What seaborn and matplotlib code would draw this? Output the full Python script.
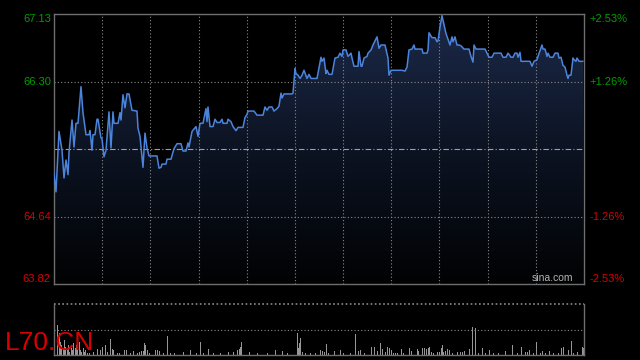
import numpy as np
import pandas as pd
import matplotlib
matplotlib.use("Agg")
import matplotlib.pyplot as plt
from matplotlib.colors import LinearSegmentedColormap
import seaborn as sns

# ---------------- data ----------------
minute = [0, 2, 5, 8, 10, 12, 14, 15, 18, 20, 22, 24, 27, 29, 32, 35, 36, 38, 39, 41,
          43, 44, 47, 48, 50, 52, 55, 57, 59, 60, 64, 66, 67, 69, 71, 73, 75, 78, 83, 84,
          86, 89, 91, 93, 95, 103, 105, 107, 108, 112, 113, 117, 120, 123, 127, 129, 132, 134, 135, 138,
          140, 142, 144, 146, 149, 152, 153, 154, 156, 159, 161, 163, 166, 168, 169, 173, 174, 177, 179, 182,
          184, 189, 191, 193, 194, 200, 203, 209, 211, 213, 215, 218, 220, 223, 225, 227, 228, 230, 238, 239,
          241, 242, 244, 246, 248, 250, 253, 255, 257, 263, 267, 268, 270, 272, 273, 275, 278, 281, 284, 286,
          288, 289, 292, 294, 297, 298, 300, 304, 305, 307, 308, 310, 313, 314, 317, 319, 323, 325, 327, 331,
          334, 335, 337, 348, 351, 353, 355, 358, 360, 361, 368, 369, 373, 374, 375, 378, 381, 383, 384, 386,
          388, 390, 392, 394, 396, 398, 399, 401, 403, 405, 407, 410, 415, 417, 419, 420, 422, 431, 433, 435,
          438, 440, 447, 449, 452, 454, 457, 459, 461, 463, 464, 466, 467, 476, 478, 480, 483, 484, 488, 489,
          491, 493, 494, 496, 499, 501, 504, 505, 507, 509, 511, 513, 514, 515, 517, 519, 520, 522, 523, 525,
          529]
price = [65.18, 64.95, 65.69, 65.46, 65.12, 65.34, 65.16, 65.43, 65.83, 65.50, 65.79, 65.79, 66.24, 65.92, 65.65, 65.65, 65.70, 65.46, 65.65, 65.65,
         65.84, 65.84, 65.61, 65.60, 65.38, 65.46, 65.93, 65.49, 65.93, 65.79, 65.79, 65.92, 65.83, 66.14, 65.98, 66.15, 66.15, 65.95, 65.94, 65.73,
         65.63, 65.25, 65.67, 65.49, 65.39, 65.39, 65.24, 65.25, 65.29, 65.29, 65.35, 65.35, 65.48, 65.54, 65.54, 65.45, 65.45, 65.55, 65.50, 65.69,
         65.72, 65.75, 65.63, 65.79, 65.79, 65.97, 65.81, 65.99, 65.75, 65.75, 65.84, 65.80, 65.80, 65.84, 65.79, 65.79, 65.84, 65.81, 65.75, 65.70,
         65.74, 65.74, 65.86, 65.90, 65.94, 65.94, 65.89, 65.89, 65.99, 65.95, 65.99, 65.99, 65.94, 65.97, 66.00, 66.16, 66.10, 66.15, 66.15, 66.16,
         66.46, 66.40, 66.38, 66.34, 66.38, 66.44, 66.34, 66.39, 66.34, 66.34, 66.60, 66.55, 66.59, 66.40, 66.44, 66.39, 66.39, 66.59, 66.60, 66.65,
         66.61, 66.69, 66.69, 66.61, 66.65, 66.59, 66.49, 66.49, 66.67, 66.49, 66.49, 66.59, 66.61, 66.65, 66.69, 66.75, 66.85, 66.71, 66.75, 66.75,
         66.59, 66.38, 66.44, 66.44, 66.43, 66.48, 66.69, 66.70, 66.75, 66.70, 66.70, 66.65, 66.65, 66.69, 66.90, 66.84, 66.84, 66.79, 66.80, 66.97,
         67.11, 67.00, 66.89, 66.82, 66.75, 66.85, 66.79, 66.85, 66.75, 66.75, 66.74, 66.70, 66.70, 66.61, 66.54, 66.75, 66.70, 66.70, 66.65, 66.60,
         66.60, 66.65, 66.65, 66.60, 66.60, 66.65, 66.60, 66.60, 66.65, 66.65, 66.60, 66.66, 66.55, 66.55, 66.49, 66.55, 66.57, 66.61, 66.75, 66.70,
         66.70, 66.61, 66.65, 66.60, 66.60, 66.65, 66.65, 66.59, 66.60, 66.50, 66.48, 66.38, 66.34, 66.38, 66.38, 66.59, 66.57, 66.55, 66.59, 66.55,
         66.55]

vol_minute = [0, 3, 5, 6, 7, 9, 10, 11, 13, 14, 15, 17, 18, 19, 21, 22, 23, 25, 26, 27,
              29, 30, 31, 33, 35, 39, 43, 46, 48, 51, 53, 56, 58, 59, 63, 65, 70, 72, 76, 79,
              83, 85, 87, 89, 90, 91, 93, 95, 101, 103, 105, 109, 113, 116, 120, 129, 136, 142, 146, 149,
              154, 159, 166, 174, 179, 183, 185, 186, 187, 195, 203, 213, 221, 228, 233, 243, 244, 245, 246, 248,
              251, 256, 261, 266, 268, 270, 272, 274, 280, 286, 289, 296, 301, 304, 306, 310, 317, 320, 323, 326,
              328, 331, 333, 335, 337, 339, 341, 343, 347, 349, 355, 357, 363, 364, 368, 370, 372, 374, 375, 377,
              379, 383, 385, 387, 388, 389, 391, 393, 395, 398, 403, 406, 408, 410, 415, 418, 421, 424, 428, 431,
              435, 439, 444, 451, 458, 463, 467, 471, 473, 475, 479, 482, 486, 488, 491, 495, 499, 504, 507, 509,
              514, 517, 519, 523, 528, 529, 530]
volume = [153, 90, 67, 40, 30, 20, 45, 25, 15, 30, 10, 20, 15, 35, 20, 30, 25, 40, 15, 10,
          20, 10, 15, 7, 5, 10, 17, 15, 25, 30, 10, 47, 17, 15, 5, 7, 15, 15, 5, 12,
          5, 10, 12, 13, 37, 30, 15, 7, 15, 15, 12, 5, 57, 5, 5, 10, 15, 5, 38, 5,
          17, 5, 5, 10, 10, 15, 17, 25, 38, 10, 5, 7, 15, 13, 5, 65, 20, 35, 50, 10,
          7, 5, 5, 15, 12, 10, 33, 7, 12, 15, 7, 5, 63, 12, 15, 5, 25, 25, 12, 37,
          18, 10, 23, 22, 15, 7, 5, 5, 18, 5, 20, 12, 17, 12, 20, 20, 17, 20, 23, 10,
          7, 10, 10, 20, 30, 10, 13, 17, 15, 5, 9, 10, 10, 12, 18, 83, 80, 5, 20, 5,
          15, 5, 5, 12, 30, 5, 23, 10, 8, 15, 5, 38, 7, 12, 5, 12, 5, 5, 20, 23,
          15, 42, 7, 9, 23, 22, 103]

price_ticks = [67.13, 66.30, 64.64, 63.82]
pct_ticks = ["+2.53%", "+1.26%", "-1.26%", "-2.53%"]
prev_close = 65.47
symbol = "L70.CN"
watermark = "sina.com"

# ---------------- style ----------------
sns.set_theme(style="dark", rc={"axes.facecolor": "black", "figure.facecolor": "black",
                                "axes.edgecolor": "#6e6e6e", "axes.grid": False})
plt.rcParams["font.family"] = ["Liberation Sans", "DejaVu Sans"]

GREEN = "#009e00"
RED = "#d80000"
GRID = "#8a8a8a"
LINE = "#4c84dc"

fig = plt.figure(figsize=(6.4, 3.6), dpi=100)
fig.patch.set_facecolor("black")

ax = fig.add_axes([54 / 640, 1 - 284 / 360, 530 / 640, 270 / 360])
axv = fig.add_axes([54 / 640, 1 - 355 / 360, 530 / 640, 51 / 360])

df = pd.DataFrame({"minute": minute, "price": price})
xmax = 530
ymin, ymax = price_ticks[-1], price_ticks[0]

ax.set_xlim(0, xmax)
ax.set_ylim(ymin, ymax)

# gradient area fill under the line
poly = ax.fill_between(df["minute"], df["price"], ymin, color="none", lw=0)
cmap = LinearSegmentedColormap.from_list("g", ["#010203", "#0c1322", "#1c2a4a"])
grad = np.linspace(0, 1, 256).reshape(-1, 1)
im = ax.imshow(grad, extent=[0, xmax, ymin, ymax], origin="lower", aspect="auto",
               cmap=cmap, zorder=1)
im.set_clip_path(poly.get_paths()[0], transform=ax.transData)

# grid lines
for i in range(1, 11):
    ax.axvline(xmax * i / 11, color=GRID, lw=0.8, ls=(0, (1, 2)), zorder=2)
for v in (price_ticks[1], price_ticks[2]):
    ax.axhline(v, color=GRID, lw=0.8, ls=(0, (1, 2)), zorder=2)
ax.axhline(prev_close, color="#a0a0a0", lw=0.8, ls=(0, (5, 2, 1, 2)), zorder=2)

sns.lineplot(data=df, x="minute", y="price", ax=ax, color=LINE, lw=1.1, zorder=3)

ax.set_xticks([])
ax.set_yticks([])
ax.set_xlabel("")
ax.set_ylabel("")
for s in ax.spines.values():
    s.set_color("#6e6e6e")
    s.set_linewidth(1.0)

# axis labels
left_colors = [GREEN, GREEN, RED, RED]
vas = ["top", "center", "center", "bottom"]
for v, lab, c, va in zip(price_ticks, pct_ticks, left_colors, vas):
    ax.text(-0.006, v, f"{v:.2f}", transform=ax.get_yaxis_transform(), ha="right",
            va=va, color=c, fontsize=8)
    ax.text(1.011, v, lab, transform=ax.get_yaxis_transform(), ha="left",
            va=va, color=c, fontsize=8)

ax.text(0.979, 0.003, watermark, transform=ax.transAxes, ha="right", va="bottom",
        color="#b4b4b4", fontsize=7.5)

# volume panel
axv.bar(vol_minute, volume, width=1.0, color="#969696", lw=0, antialiased=False)
axv.set_xlim(0, xmax)
axv.set_ylim(0, 153)
axv.set_xticks([])
axv.set_yticks([])
axv.axhline(153 / 2, color=GRID, lw=0.8, ls=(0, (1, 2)))
axv.spines["top"].set_visible(False)
axv.axhline(153, color=GRID, lw=1.2, ls=(0, (1, 1.5)), clip_on=False)
for k in ("left", "right", "bottom"):
    axv.spines[k].set_color("#6e6e6e")
    axv.spines[k].set_linewidth(1.0)

fig.text(5 / 640, 1 - 350 / 360, symbol, color=RED, fontsize=19, ha="left", va="baseline")

fig.savefig("out.png", dpi=100, facecolor="black")
